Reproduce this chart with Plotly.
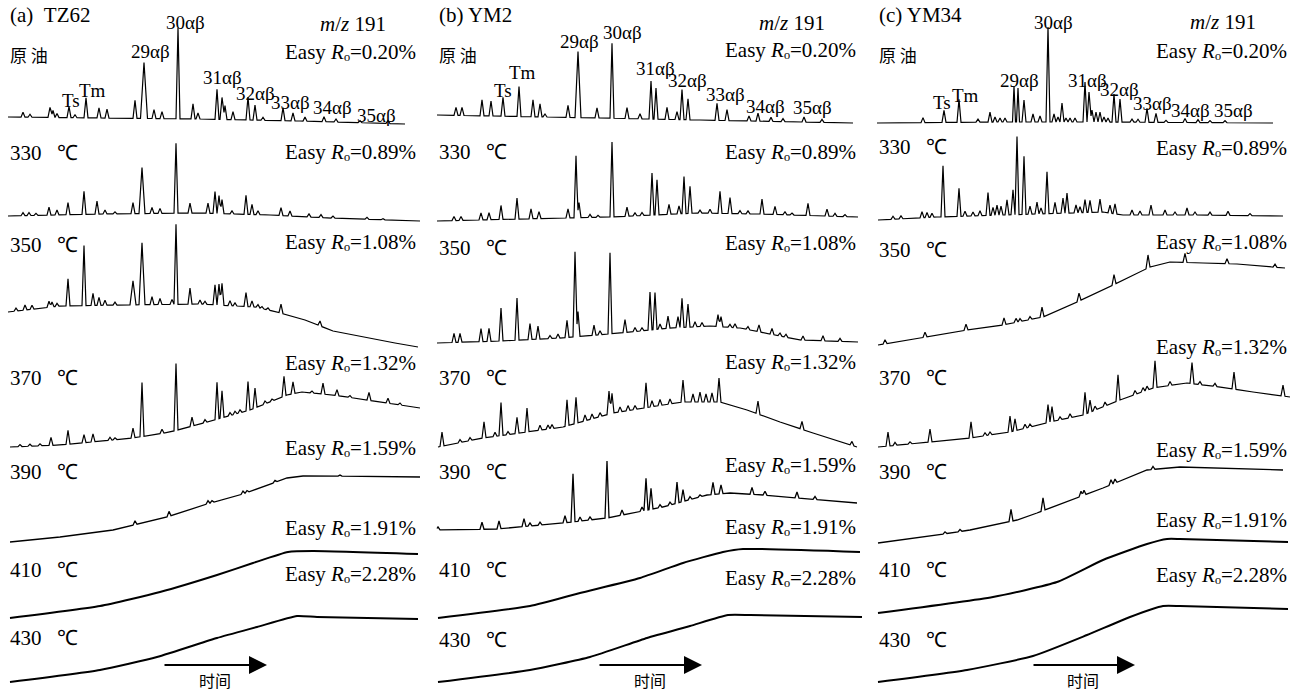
import numpy as np
import plotly.graph_objects as go

W, H = 1303, 693

# ---------------- labels ----------------
PANEL_TITLES = ["(a)\u00a0\u00a0TZ62", "(b) YM2", "(c) YM34"]
ROW_LABELS = ["原 油", "330\u00a0\u00a0\u00a0℃", "350\u00a0\u00a0\u00a0℃", "370\u00a0\u00a0\u00a0℃",
              "390\u00a0\u00a0\u00a0℃", "410\u00a0\u00a0\u00a0℃", "430\u00a0\u00a0\u00a0℃"]
EASY_RO = ["0.20", "0.89", "1.08", "1.32", "1.59", "1.91", "2.28"]
PEAK_NAMES = ["Ts", "Tm", "29αβ", "30αβ", "31αβ", "32αβ", "33αβ", "34αβ", "35αβ"]

# ---------------- chromatogram data ----------------
# baseline: (retention time, signal) ; peaks: (retention time, height above baseline[, half width])
# ---- (a) TZ62 ----
A0_BASE = [(8, 8), (100, 7), (200, 6), (300, 4), (405, 1)]
A0_PEAKS = [(23, 5), (30, 3), (50, 10), (53, 7), (57, 4), (69, 11), (75, 3), (86, 20), (99, 10), (107, 9),
            (135, 18), (144, 56, 3.5), (154, 9), (162, 7), (178, 91), (193, 15), (198, 6), (217, 30),
            (222, 22), (225, 14), (233, 8), (248, 23), (255, 15), (263, 3), (283, 13), (293, 8), (305, 4),
            (324, 5), (336, 3), (360, 2), (388, 3)]
A1_BASE = [(8, 6), (100, 8), (200, 9), (270, 7), (330, 4), (420, 1)]
A1_PEAKS = [(23, 3), (29, 3), (36, 2), (49, 8), (57, 5), (68, 12), (84, 23), (97, 13), (105, 4), (115, 2),
            (133, 11), (142, 46, 3), (152, 6), (160, 5), (176, 70), (190, 10), (208, 10), (215, 22),
            (219, 18), (222, 14), (232, 3), (246, 19), (252, 10), (258, 4), (281, 8), (290, 5), (309, 3),
            (321, 3), (333, 2), (367, 2), (383, 1)]
A2_BASE = [(8, 38), (60, 44), (120, 45), (200, 46), (255, 43), (277, 38), (305, 30), (333, 19), (367, 12),
           (395, 7), (418, 3)]
A2_PEAKS = [(16, 3), (25, 5), (32, 4), (49, 6), (52, 5), (57, 3), (68, 27), (84, 60), (93, 12), (99, 8),
            (105, 5), (115, 3), (133, 24, 3), (142, 62, 3), (152, 8), (160, 6), (172, 5), (176, 80),
            (190, 16), (200, 4), (205, 3), (215, 20), (219, 21), (222, 22), (230, 5), (235, 3), (246, 14),
            (252, 6), (258, 3), (262, 2), (268, 2), (281, 9), (320, 5)]
A3_BASE = [(10, 3), (60, 5), (133, 12), (170, 18), (200, 26), (250, 40), (287, 55), (302, 58), (333, 55),
           (367, 50), (420, 42)]
A3_PEAKS = [(20, 2), (30, 2), (40, 2), (51, 8), (68, 14), (84, 8), (93, 8), (110, 3), (115, 2), (133, 10),
            (142, 54), (162, 4), (176, 67), (192, 9), (205, 3), (217, 37), (222, 27), (230, 3), (235, 3),
            (240, 3), (248, 29), (255, 20), (265, 3), (272, 2), (284, 20), (293, 12), (312, 2), (323, 11),
            (337, 6), (350, 2), (369, 8), (388, 5), (400, 2)]
A4_BASE = [(10, 3), (60, 8), (113, 15), (167, 28), (207, 41), (243, 51), (287, 67), (303, 69), (333, 69),
           (420, 68)]
A4_PEAKS = [(135, 4), (169, 5), (208, 3), (212, 2), (243, 3), (247, 2), (275, 2), (340, 1)]
A5_BASE = [(10, 4), (100, 16), (160, 30), (217, 47), (253, 59), (288, 70), (313, 71), (418, 68)]
A5_PEAKS = []
A6_BASE = [(10, 3), (100, 15), (157, 28), (217, 47), (257, 58), (297, 69), (317, 68), (418, 66)]
A6_PEAKS = []

# ---- (b) YM2 ----
B0_BASE = [(7, 10), (170, 7), (270, 5), (423, 2)]
B0_PEAKS = [(26, 8), (32, 8), (52, 16), (61, 15), (73, 19), (89, 30), (103, 17), (110, 13), (115, 3),
            (138, 12), (148, 66, 3), (167, 10), (182, 75), (197, 11), (210, 5), (221, 38), (226, 31),
            (237, 12), (247, 8), (252, 30), (258, 21), (287, 17), (297, 11), (319, 5), (328, 8), (341, 4),
            (353, 3), (374, 5), (392, 3)]
B1_BASE = [(7, 1), (90, 3), (180, 5), (267, 9), (330, 8), (428, 5)]
B1_PEAKS = [(24, 4), (31, 4), (51, 7), (59, 7), (71, 14), (87, 21), (101, 10), (109, 7), (138, 9),
            (146, 62), (149, 15), (160, 3), (168, 2), (182, 75), (197, 9), (205, 3), (212, 3), (222, 42),
            (227, 35), (239, 10), (249, 8), (254, 37), (260, 27), (270, 3), (280, 4), (290, 22), (300, 16),
            (310, 3), (318, 3), (332, 15), (345, 8), (355, 3), (362, 2), (378, 12), (397, 7), (405, 3),
            (415, 2)]
B2_BASE = [(7, 7), (70, 9), (130, 12), (190, 17), (240, 22), (280, 24), (310, 22), (340, 16), (370, 10),
           (428, 8)]
B2_PEAKS = [(24, 9), (30, 9), (51, 13), (59, 13), (71, 33), (87, 42), (100, 16), (108, 13), (120, 3),
            (128, 4), (137, 17), (145, 85), (148, 25), (164, 10), (170, 4), (180, 81), (195, 13), (205, 4),
            (212, 3), (220, 38), (225, 37), (230, 5), (238, 12), (248, 11), (252, 29), (258, 23), (265, 5),
            (272, 4), (288, 12), (291, 10), (300, 3), (305, 4), (318, 3), (329, 7), (342, 6), (350, 3),
            (356, 3), (373, 4), (393, 5), (410, 3)]
B3_BASE = [(8, 3), (53, 12), (133, 23), (183, 37), (233, 45), (253, 48), (290, 48), (317, 40), (350, 28),
           (383, 17), (427, 3)]
B3_PEAKS = [(12, 14), (30, 3), (40, 3), (54, 16), (65, 4), (71, 33), (78, 3), (87, 16), (97, 24), (110, 5),
            (118, 4), (122, 4), (137, 26), (146, 26), (155, 6), (162, 5), (170, 4), (179, 23), (182, 20),
            (190, 5), (198, 5), (205, 4), (216, 25), (222, 6), (230, 6), (240, 5), (253, 22), (263, 8),
            (270, 10), (276, 8), (282, 9), (289, 24), (328, 13), (372, 8), (422, 4)]
B4_BASE = [(7, 15), (67, 16), (133, 22), (177, 27), (233, 38), (277, 50), (300, 52), (333, 50), (367, 47),
           (427, 42)]
B4_PEAKS = [(8, 3), (52, 7), (69, 8), (94, 8), (100, 3), (110, 3), (135, 7), (143, 48), (150, 4), (160, 3),
            (177, 57), (192, 5), (212, 4), (216, 32), (221, 21), (230, 3), (240, 3), (247, 21), (253, 12),
            (260, 3), (270, 2), (283, 12), (291, 9), (322, 7), (335, 4), (367, 6), (385, 3)]
B5_BASE = [(8, 4), (100, 16), (150, 29), (210, 44), (253, 59), (293, 70), (313, 73), (430, 70)]
B5_PEAKS = []
B6_BASE = [(8, 3), (100, 15), (160, 28), (217, 47), (260, 59), (298, 70), (320, 70), (432, 68)]
B6_PEAKS = []

# ---- (c) YM34 ----
C0_BASE = [(7, 2), (130, 3), (230, 3), (403, 2)]
C0_PEAKS = [(53, 5), (74, 12), (89, 23), (108, 3), (120, 10), (125, 5), (130, 4), (135, 4), (144, 36, 1.5),
            (148, 34, 1.5), (154, 22), (163, 8), (170, 6), (178, 95), (184, 8), (188, 5), (192, 19),
            (196, 4), (200, 4), (205, 4), (215, 40), (219, 30), (222, 12), (226, 10), (230, 10), (234, 5),
            (238, 4), (244, 28), (250, 23), (262, 3), (268, 3), (277, 14), (286, 9), (296, 2), (315, 4),
            (328, 3), (340, 2), (355, 2)]
C1_BASE = [(8, 2), (67, 5), (133, 7), (233, 10), (253, 7), (333, 7), (413, 6)]
C1_PEAKS = [(23, 3), (31, 3), (52, 6), (57, 5), (62, 4), (73, 51), (89, 28), (95, 5), (103, 4), (110, 5),
            (118, 23), (123, 8), (127, 10), (131, 9), (137, 15), (143, 25), (147, 78), (154, 58), (160, 8),
            (167, 12), (171, 6), (177, 42), (185, 11), (193, 15), (197, 20), (206, 8), (210, 6), (215, 13),
            (220, 12), (230, 13), (240, 8), (245, 10), (262, 5), (270, 4), (281, 10), (295, 5), (305, 3),
            (317, 7), (325, 3), (340, 3), (358, 4), (380, 2)]
C2_BASE = [(8, 5), (50, 12), (97, 20), (133, 25), (173, 33), (207, 48), (243, 65), (280, 83), (300, 88),
           (333, 87), (367, 86), (415, 82)]
C2_PEAKS = [(15, 4), (55, 5), (96, 6), (134, 7), (146, 4), (150, 3), (160, 3), (172, 10), (209, 8),
            (244, 10), (278, 13), (315, 9), (357, 5), (405, 3)]
C3_BASE = [(8, 3), (60, 8), (100, 12), (140, 18), (180, 28), (213, 35), (250, 50), (283, 62), (317, 67),
           (350, 63), (383, 58), (420, 53)]
C3_PEAKS = [(18, 14), (25, 3), (40, 2), (60, 13), (101, 16), (115, 3), (120, 3), (140, 16), (145, 12),
            (155, 4), (160, 3), (178, 18), (182, 15), (190, 3), (200, 4), (215, 22), (220, 12), (225, 4),
            (235, 4), (248, 26), (265, 4), (273, 4), (277, 4), (285, 27), (300, 4), (322, 21), (330, 3),
            (345, 3), (364, 17), (413, 11)]
C4_BASE = [(8, 2), (67, 10), (100, 15), (147, 25), (167, 32), (233, 57), (277, 75), (310, 78), (413, 75)]
C4_PEAKS = [(75, 2), (90, 2), (141, 12), (173, 13), (211, 5), (214, 5), (241, 5), (245, 4), (283, 3)]
C5_BASE = [(8, 9), (123, 25), (187, 40), (233, 62), (277, 78), (297, 83), (310, 83), (418, 80)]
C5_PEAKS = []
C6_BASE = [(8, 3), (97, 15), (163, 29), (217, 50), (260, 68), (293, 79), (310, 79), (418, 76)]
C6_PEAKS = []

PANEL_DATA = [
    [(A0_BASE, A0_PEAKS), (A1_BASE, A1_PEAKS), (A2_BASE, A2_PEAKS), (A3_BASE, A3_PEAKS),
     (A4_BASE, A4_PEAKS), (A5_BASE, A5_PEAKS), (A6_BASE, A6_PEAKS)],
    [(B0_BASE, B0_PEAKS), (B1_BASE, B1_PEAKS), (B2_BASE, B2_PEAKS), (B3_BASE, B3_PEAKS),
     (B4_BASE, B4_PEAKS), (B5_BASE, B5_PEAKS), (B6_BASE, B6_PEAKS)],
    [(C0_BASE, C0_PEAKS), (C1_BASE, C1_PEAKS), (C2_BASE, C2_PEAKS), (C3_BASE, C3_PEAKS),
     (C4_BASE, C4_PEAKS), (C5_BASE, C5_PEAKS), (C6_BASE, C6_PEAKS)],
]

# ---------------- layout geometry (pixels) ----------------
PANEL_LEFT = [0, 430, 870]
PANEL_RIGHT = [430, 870, 1303]
ROW_REF = [125, 222, 350, 450, 545, 622, 685]       # stacking reference line of each row (px from top)
ROW_WIDTH = [1.2, 1.2, 1.2, 1.2, 1.3, 2.0, 2.0]

TITLE_Y = 15
MZ_RIGHT = [388, 827, 1258]
MZ_Y = [24, 23, 22]
EASY_RIGHT = [418, 858, 1289]
EASY_Y = [[52, 152, 242, 363, 448, 528, 574],
          [50, 152, 243, 362, 465, 527, 578],
          [51, 148, 242, 347, 450, 520, 575]]
ROWLAB_X = [8, 437, 877]
ROWLAB_Y = [[55, 153, 245, 378, 472, 570, 638],
            [54, 152, 248, 378, 472, 570, 640],
            [54, 147, 250, 378, 472, 570, 640]]
PEAK_LABEL_POS = [
    [(71, 101), (92, 90), (150, 52), (185, 22), (222, 78), (255, 93), (290, 102), (332, 107), (376, 115)],
    [(503, 90), (522, 72), (579, 42), (622, 32), (655, 68), (688, 80), (725, 94), (765, 106), (812, 107)],
    [(942, 102), (965, 95), (1019, 80), (1053, 22), (1087, 80), (1119, 89), (1152, 104), (1190, 110),
     (1233, 110)],
]
ARROW_X = [(163, 267), (598, 702), (1032, 1135)]
ARROW_Y = 665
TIME_LABEL_X = [215, 650, 1083]
TIME_LABEL_Y = 680


def chromatogram(base, peaks, default_w=2.0):
    bt = np.array([p[0] for p in base], dtype=float)
    bv = np.array([p[1] for p in base], dtype=float)
    knots = set(bt.tolist())
    pk = []
    for p in peaks:
        t, h = p[0], p[1]
        w = p[2] if len(p) > 2 else default_w
        pk.append((t, h, w))
        knots.update([t - w, t, t + w])
    ts = np.array(sorted(k for k in knots if bt[0] <= k <= bt[-1]))
    ys = np.interp(ts, bt, bv)
    for t, h, w in pk:
        ys = ys + h * np.clip(1 - np.abs(ts - t) / w, 0, None)
    return ts, ys


fig = go.Figure()
axis_names = ["x", "x2", "x3"]
for pi in range(3):
    for ri, (base, peaks) in enumerate(PANEL_DATA[pi]):
        t, s = chromatogram(base, peaks)
        smooth = len(peaks) == 0
        fig.add_trace(go.Scatter(
            x=t, y=(H - ROW_REF[ri]) + s, mode="lines",
            line=dict(color="black", width=ROW_WIDTH[ri], shape="spline" if smooth else "linear",
                      smoothing=0.5 if smooth else None),
            xaxis=axis_names[pi], yaxis="y", showlegend=False, hoverinfo="skip"))

SERIF = "Liberation Serif, Times New Roman, serif"
CJK = "Noto Sans CJK SC, sans-serif"


def px_ann(text, x, y, xanchor="left", size=21, family=SERIF):
    return dict(text=text, x=x / W, y=1 - y / H, xref="paper", yref="paper", xanchor=xanchor,
                yanchor="middle", showarrow=False, font=dict(family=family, size=size, color="black"))


anns = []
for pi in range(3):
    anns.append(px_ann(PANEL_TITLES[pi], PANEL_LEFT[pi] + (8 if pi == 0 else 7), TITLE_Y))
    anns.append(px_ann("<i>m</i>/<i>z</i> 191", MZ_RIGHT[pi], MZ_Y[pi], xanchor="right"))
    for ri in range(7):
        anns.append(px_ann("Easy <i>R</i>\u2092=" + EASY_RO[ri] + "%", EASY_RIGHT[pi],
                           EASY_Y[pi][ri], xanchor="right"))
        if ri == 0:
            anns.append(px_ann(ROW_LABELS[ri], ROWLAB_X[pi], ROWLAB_Y[pi][ri], size=17, family=CJK))
        else:
            anns.append(px_ann(ROW_LABELS[ri], ROWLAB_X[pi], ROWLAB_Y[pi][ri]))
    for name, (lx, ly) in zip(PEAK_NAMES, PEAK_LABEL_POS[pi]):
        anns.append(px_ann(name, lx, ly, xanchor="center", size=19))
    x0, x1 = ARROW_X[pi]
    anns.append(dict(x=x1 - PANEL_LEFT[pi], y=H - ARROW_Y, ax=x0 - PANEL_LEFT[pi], ay=H - ARROW_Y,
                     xref=axis_names[pi], yref="y", axref=axis_names[pi], ayref="y",
                     showarrow=True, arrowhead=2, arrowsize=1.8, arrowwidth=2, arrowcolor="black", text=""))
    anns.append(px_ann("时间", TIME_LABEL_X[pi], TIME_LABEL_Y, xanchor="center", size=16, family=CJK))

layout_axes = {}
for pi in range(3):
    key = "xaxis" if pi == 0 else "xaxis%d" % (pi + 1)
    layout_axes[key] = dict(domain=[PANEL_LEFT[pi] / W, PANEL_RIGHT[pi] / W],
                            range=[0, PANEL_RIGHT[pi] - PANEL_LEFT[pi]], visible=False,
                            anchor="y", fixedrange=True)

fig.update_layout(
    width=W, height=H, margin=dict(l=0, r=0, t=0, b=0),
    paper_bgcolor="white", plot_bgcolor="white",
    yaxis=dict(domain=[0, 1], range=[0, H], visible=False, fixedrange=True),
    annotations=anns, showlegend=False, **layout_axes)

fig.write_html("out.html", config={"displayModeBar": False})
